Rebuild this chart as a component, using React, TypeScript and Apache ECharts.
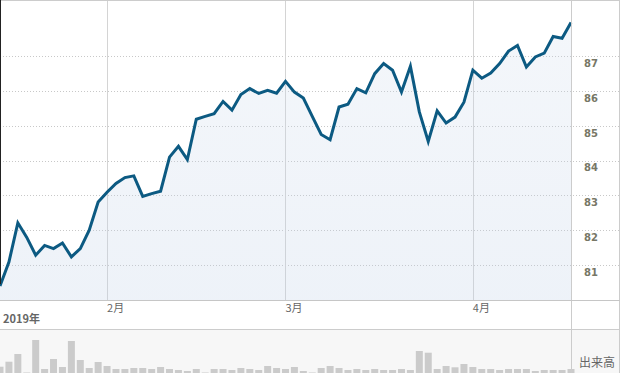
import React, { useEffect, useRef } from 'react';
import * as echarts from 'echarts';

// Trading days (weekdays) shown on the chart
const dates: string[] = [
  '2019/01/16', '2019/01/17', '2019/01/18', '2019/01/21', '2019/01/22', '2019/01/23', '2019/01/24', '2019/01/25',
  '2019/01/28', '2019/01/29', '2019/01/30', '2019/01/31',
  '2019/02/01', '2019/02/04', '2019/02/05', '2019/02/06', '2019/02/07', '2019/02/08', '2019/02/11', '2019/02/12',
  '2019/02/13', '2019/02/14', '2019/02/15', '2019/02/18', '2019/02/19', '2019/02/20', '2019/02/21', '2019/02/22',
  '2019/02/25', '2019/02/26', '2019/02/27', '2019/02/28',
  '2019/03/01', '2019/03/04', '2019/03/05', '2019/03/06', '2019/03/07', '2019/03/08', '2019/03/11', '2019/03/12',
  '2019/03/13', '2019/03/14', '2019/03/15', '2019/03/18', '2019/03/19', '2019/03/20', '2019/03/21', '2019/03/22',
  '2019/03/25', '2019/03/26', '2019/03/27', '2019/03/28', '2019/03/29',
  '2019/04/01', '2019/04/02', '2019/04/03', '2019/04/04', '2019/04/05', '2019/04/08', '2019/04/09', '2019/04/10',
  '2019/04/11', '2019/04/12', '2019/04/15', '2019/04/16',
];

const prices: number[] = [
  80.40, 81.09, 82.22, 81.80, 81.29, 81.57, 81.48, 81.64, 81.24, 81.48,
  82.01, 82.82, 83.10, 83.35, 83.52, 83.57, 82.98, 83.06, 83.13, 84.11,
  84.42, 84.04, 85.20, 85.28, 85.36, 85.71, 85.46, 85.91, 86.08, 85.94,
  86.03, 85.95, 86.29, 85.98, 85.81, 85.28, 84.76, 84.61, 85.55, 85.63,
  86.08, 85.96, 86.51, 86.80, 86.61, 85.98, 86.72, 85.41, 84.56, 85.44,
  85.09, 85.26, 85.69, 86.61, 86.38, 86.53, 86.80, 87.16, 87.32, 86.70,
  86.99, 87.10, 87.58, 87.53, 87.98,
];

const volumes: number[] = [
  6.3, 11.3, 19, 0.5, 33, 4, 14, 6, 32, 13,
  5, 11, 7, 4, 4, 5, 5, 4, 6, 4,
  3, 2, 4, 0.5, 4, 4, 3, 5, 4, 3,
  7, 5, 4, 6, 2, 0.5, 5, 7, 5, 3,
  4, 3, 4, 3, 3, 4, 3, 22, 20.3, 4,
  7, 5.7, 9, 6, 4, 4, 3, 4, 4, 4,
  2, 3, 3, 3, 4,
];

const priceTicks: number[] = [81, 82, 83, 84, 85, 86, 87];
const yearLabel = '2019年';
const volumeLabel = '出来高';

const W = 620;
const H = 373;
const PLOT_W = 571;
const PLOT_TOP = 1;
const PLOT_H = 299;
const Y_MIN = 80;
const Y_MAX = 88.6;
const VOL_TOP = 329;
const VOL_H = 44;
const VOL_MAX = 44;

export default function App() {
  const ref = useRef<HTMLDivElement>(null);

  useEffect(() => {
    if (!ref.current) return;
    const chart = echarts.init(ref.current, null, { renderer: 'svg' });
    const ppu = PLOT_H / (Y_MAX - Y_MIN);
    const gLo = priceTicks[0];
    const gHi = priceTicks[priceTicks.length - 1];
    const overlayTop = PLOT_TOP + (Y_MAX - gHi) * ppu;
    const overlayH = (gHi - gLo) * ppu;
    const isMonthStart = (i: number) => i > 0 && dates[i].slice(5, 7) !== dates[i - 1].slice(5, 7);
    const borderColor = '#cccccc';

    const line = (x1: number, y1: number, x2: number, y2: number, stroke: string) => ({
      type: 'line',
      z: 100,
      silent: true,
      shape: { x1, y1, x2, y2 },
      style: { stroke, lineWidth: 1 },
    });

    chart.setOption({
      animation: false,
      backgroundColor: '#ffffff',
      textStyle: { fontFamily: 'Noto Sans CJK JP' },
      grid: [
        { left: 0, top: PLOT_TOP, width: PLOT_W, height: PLOT_H },
        { left: 0, top: VOL_TOP, width: PLOT_W, height: VOL_H },
        { left: 0, top: overlayTop, width: W - 1, height: overlayH },
      ],
      xAxis: [
        {
          type: 'category',
          gridIndex: 0,
          data: dates,
          boundaryGap: false,
          axisLine: { show: false },
          axisTick: { show: false },
          axisLabel: {
            interval: (i: number) => isMonthStart(i),
            formatter: (v: string) => `${Number(v.slice(5, 7))}月`,
            align: 'left',
            verticalAlign: 'top',
            margin: 1,
            fontSize: 11,
            color: '#666666',
            fontFamily: 'Noto Sans CJK JP',
          },
          splitLine: {
            show: true,
            interval: (i: number) => isMonthStart(i),
            lineStyle: { color: '#d4d4d4', width: 1 },
          },
        },
        { type: 'category', gridIndex: 1, data: dates, boundaryGap: false, show: false },
        { type: 'value', gridIndex: 2, min: 0, max: 1, show: false },
      ],
      yAxis: [
        { type: 'value', gridIndex: 0, min: Y_MIN, max: Y_MAX, show: false, splitLine: { show: false } },
        { type: 'value', gridIndex: 1, min: 0, max: VOL_MAX, show: false, splitLine: { show: false } },
        {
          type: 'value',
          gridIndex: 2,
          min: gLo,
          max: gHi,
          interval: 1,
          position: 'right',
          axisLine: { show: false },
          axisTick: { show: false },
          axisLabel: {
            inside: true,
            margin: 21,
            align: 'right',
            verticalAlign: 'top',
            padding: [2, 0, 0, 0],
            fontSize: 10,
            fontWeight: 'bold',
            color: '#777766',
            fontFamily: 'DejaVu Sans',
          },
          splitLine: { show: true, lineStyle: { color: '#c8c8c8', width: 1, type: [1, 2] } },
        },
      ],
      series: [
        {
          type: 'line',
          xAxisIndex: 0,
          yAxisIndex: 0,
          data: prices,
          symbol: 'none',
          silent: true,
          z: 3,
          lineStyle: { color: '#0c5a82', width: 3, join: 'miter', miterLimit: 4 },
          areaStyle: {
            origin: 'start',
            color: new echarts.graphic.LinearGradient(0, 0, 0, 1, [
              { offset: 0, color: 'rgba(204,217,235,0.32)' },
              { offset: 1, color: 'rgba(190,207,230,0.38)' },
            ]),
          },
        },
        {
          type: 'bar',
          xAxisIndex: 1,
          yAxisIndex: 1,
          data: volumes,
          barWidth: 7,
          silent: true,
          itemStyle: { color: '#cbcbcb' },
        },
      ],
      graphic: [
        {
          type: 'rect',
          z: -10,
          silent: true,
          shape: { x: 0, y: VOL_TOP, width: W, height: H - VOL_TOP },
          style: { fill: '#f7f7f7' },
        },
        line(0, 0.5, W, 0.5, borderColor),
        line(W - 0.5, 0, W - 0.5, H, borderColor),
        line(PLOT_W + 0.5, 0, PLOT_W + 0.5, H, borderColor),
        line(0, PLOT_TOP + PLOT_H + 0.5, W, PLOT_TOP + PLOT_H + 0.5, '#c6c6c6'),
        line(0, VOL_TOP + 0.5, W, VOL_TOP + 0.5, borderColor),
        line(0.5, 0, 0.5, 284, '#222222'),
        {
          type: 'text',
          z: 100,
          x: 3,
          y: 318,
          style: {
            text: yearLabel,
            fontSize: 11,
            fontWeight: 'bold',
            fill: '#666666',
            verticalAlign: 'middle',
            fontFamily: 'Noto Sans CJK JP',
          },
        },
        {
          type: 'text',
          z: 100,
          x: 597,
          y: 361,
          style: {
            text: volumeLabel,
            fontSize: 12,
            fill: '#666666',
            align: 'center',
            verticalAlign: 'middle',
            fontFamily: 'Noto Sans CJK JP',
          },
        },
      ],
    });

    return () => {
      chart.dispose();
    };
  }, []);

  return (
    <div
      ref={ref}
      style={{ position: 'absolute', left: 0, top: 0, width: W, height: H }}
    />
  );
}
